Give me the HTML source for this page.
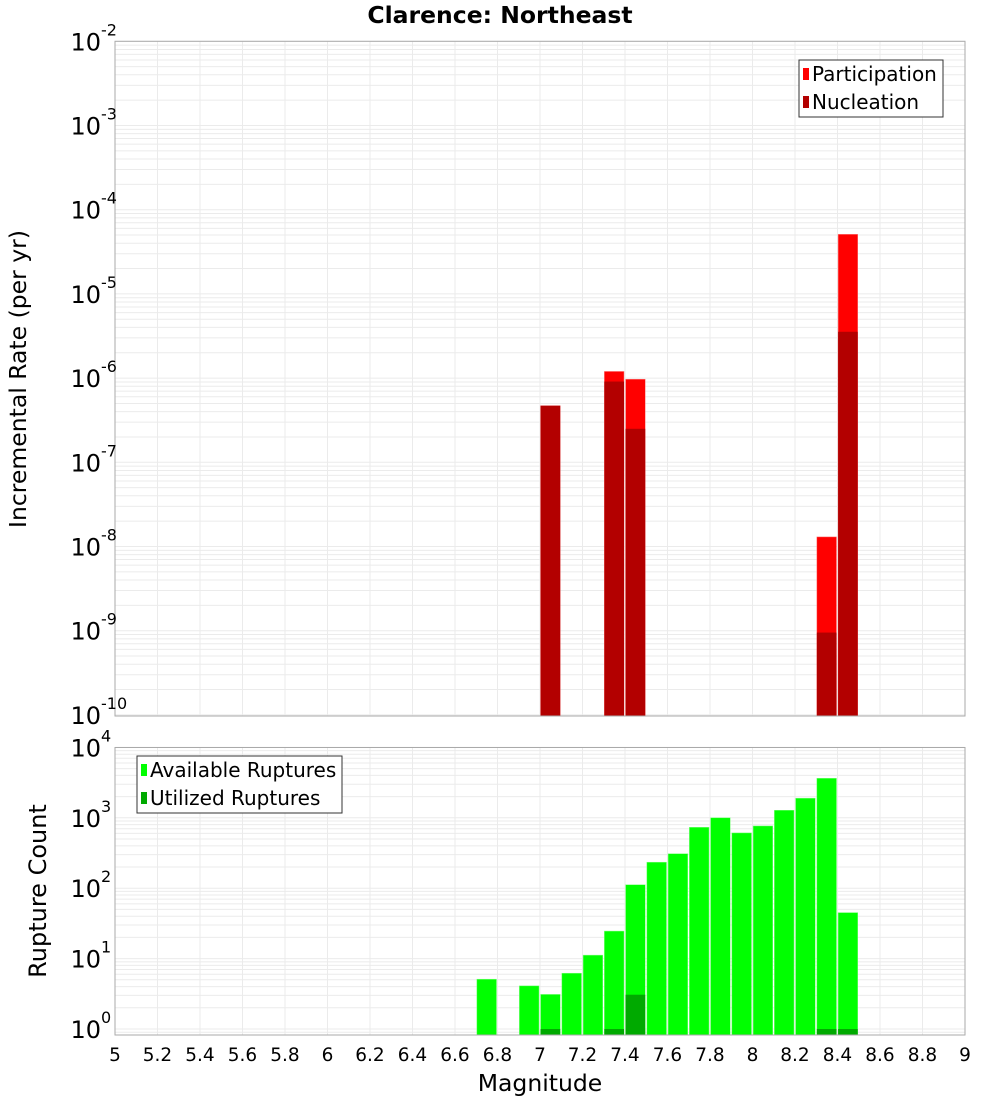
<!DOCTYPE html>
<html><head><meta charset="utf-8"><style>
body{margin:0;background:#fff;width:1000px;height:1100px;overflow:hidden}
svg{display:block;font-family:"DejaVu Sans","Liberation Sans",sans-serif}
</style></head><body>
<svg id="chart" width="1000" height="1100" viewBox="0 0 1000 1100"></svg>
<script>
const mags=[6.75,6.95,7.05,7.15,7.25,7.35,7.45,7.55,7.65,7.75,7.85,7.95,8.05,8.15,8.25,8.35,8.45];
const available=[5.1,4.1,3.1,6.2,11.2,24.6,112,234,309,733,1000,610,766,1280,1900,3640,45];
const utilized=[0,0,1,0,0,1,3.07,0,0,0,0,0,0,0,0,1,1];
const rateMags=[7.05,7.35,7.45,8.35,8.45];
const participation=[4.7e-7,1.2e-6,9.7e-7,1.3e-8,5.1e-5];
const nucleation=[4.7e-7,9.1e-7,2.5e-7,9.5e-10,3.55e-6];
const xTicks=[5,5.2,5.4,5.6,5.8,6,6.2,6.4,6.6,6.8,7,7.2,7.4,7.6,7.8,8,8.2,8.4,8.6,8.8,9];
const topExp=[-2,-3,-4,-5,-6,-7,-8,-9,-10];
const botExp=[4,3,2,1,0];

const NS="http://www.w3.org/2000/svg";
const svg=document.getElementById('chart');
function mk(tag,attrs,parent){const e=document.createElementNS(NS,tag);for(const k in attrs)e.setAttribute(k,attrs[k]);(parent||svg).appendChild(e);return e;}
const X0=115,X1=965;
const xs=m=>X0+(m-5)*(X1-X0)/4;
const T={top:41.3,bot:716,dec:84.2,maxE:-2};
const B={top:747.5,bot:1035,dec:70.4,zeroY:1029};
const yT=v=>T.top+(T.maxE-Math.log10(v))*T.dec;
const yB=v=>B.zeroY-Math.log10(v)*B.dec;

function grid(p,yf,loE,hiE){
  const g=mk('g',{});
  
  
  for(const t of xTicks){const x=xs(t);mk('line',{x1:x,x2:x,y1:p.top,y2:p.bot,stroke:'#ebebeb','stroke-width':1},g);}
  for(let e=loE;e<=hiE;e++)for(let k=1;k<10;k++){const y=yf(k*Math.pow(10,e));if(y<p.top-0.5||y>p.bot+0.5)continue;mk('line',{x1:X0,x2:X1,y1:y,y2:y,stroke:'#ebebeb','stroke-width':1},g);}
}
grid(T,yT,-11,-2);
grid(B,yB,-1,4);

const tb=mk('g',{});


rateMags.forEach((m,i)=>{
  const x=xs(m-0.05)+0.6,w=(X1-X0)/40-1.6;
  let yp=yT(participation[i]);
  const r=mk('rect',{x:x,y:yp,width:w,height:T.bot-yp,fill:'#ff0000',stroke:'#ff8080','stroke-width':0.5},tb);
  
  
  let yn=yT(nucleation[i]);
  const n=mk('rect',{x:x,y:yn,width:w,height:T.bot-yn,fill:'#b30000'},tb);
  
  
});
const bb=mk('g',{});


mags.forEach((m,i)=>{
  const x=xs(m-0.05)+0.6,w=(X1-X0)/40-1.6;
  const ya=Math.max(B.top,yB(available[i]));
  const a=mk('rect',{x:x,y:ya,width:w,height:B.bot-ya,fill:'#00ff00',stroke:'#80ff80','stroke-width':0.5},bb);
  
  
  if(utilized[i]>0){const yu=yB(utilized[i]);
    const u=mk('rect',{x:x,y:yu,width:w,height:B.bot-yu,fill:'#00aa00'},bb);
    
    }
});
const f1=mk('rect',{x:X0,y:T.top,width:X1-X0,height:T.bot-T.top,fill:'none',stroke:'#aaa','stroke-width':1});


const f2=mk('rect',{x:X0,y:B.top,width:X1-X0,height:B.bot-B.top,fill:'none',stroke:'#aaa','stroke-width':1});



function ylabel(y,e,name){
  const t=mk('text',{x:101,y:y+9,'font-size':24,'text-anchor':'end',fill:'#000'});
  t.textContent='10';
  
  
  const s=mk('text',{x:101,y:y-6,'font-size':16,fill:'#000'});
  s.textContent=String(e);
  
  
}
topExp.forEach(e=>ylabel(yT(Math.pow(10,e)),e,'top-y-tick'));
botExp.forEach(e=>ylabel(yB(Math.pow(10,e)),e,'bottom-y-tick'));
xTicks.forEach(t=>{
  const tx=mk('text',{x:xs(t),y:1061,'font-size':18.5,'text-anchor':'middle',fill:'#000'});
  tx.textContent=String(t);
  
  
});

function legend(x,y,w,items,name){
  const g=mk('g',{});
  
  
  mk('rect',{x:x,y:y,width:w,height:57,fill:'#fff',stroke:'#333','stroke-width':1},g);
  items.forEach((it,i)=>{
    const ey=y+14+i*28;
    const s=mk('rect',{x:x+4,y:ey-6,width:6,height:12,fill:it[1]},g);
    
    
    const t=mk('text',{x:x+13,y:ey+7,'font-size':20,fill:'#000'},g);
    t.textContent=it[0];
    
    
  });
}
legend(799,60,144,[['Participation','#ff0000'],['Nucleation','#b30000']],'rate-legend');
legend(137,756,205,[['Available Ruptures','#00ff00'],['Utilized Ruptures','#00aa00']],'rupture-legend');
</script>
<svg style="position:absolute;left:0;top:0" width="1000" height="1100">
<text x="500" y="23" font-size="23.5" font-weight="bold" text-anchor="middle" font-family="DejaVu Sans, sans-serif">Clarence: Northeast</text>
<text transform="translate(26,379) rotate(-90)" font-size="23.5" text-anchor="middle" font-family="DejaVu Sans, sans-serif">Incremental Rate (per yr)</text>
<text transform="translate(46,891) rotate(-90)" font-size="24" text-anchor="middle" font-family="DejaVu Sans, sans-serif">Rupture Count</text>
<text x="540" y="1091" font-size="23.5" text-anchor="middle" font-family="DejaVu Sans, sans-serif">Magnitude</text>
</svg>
</body></html>
